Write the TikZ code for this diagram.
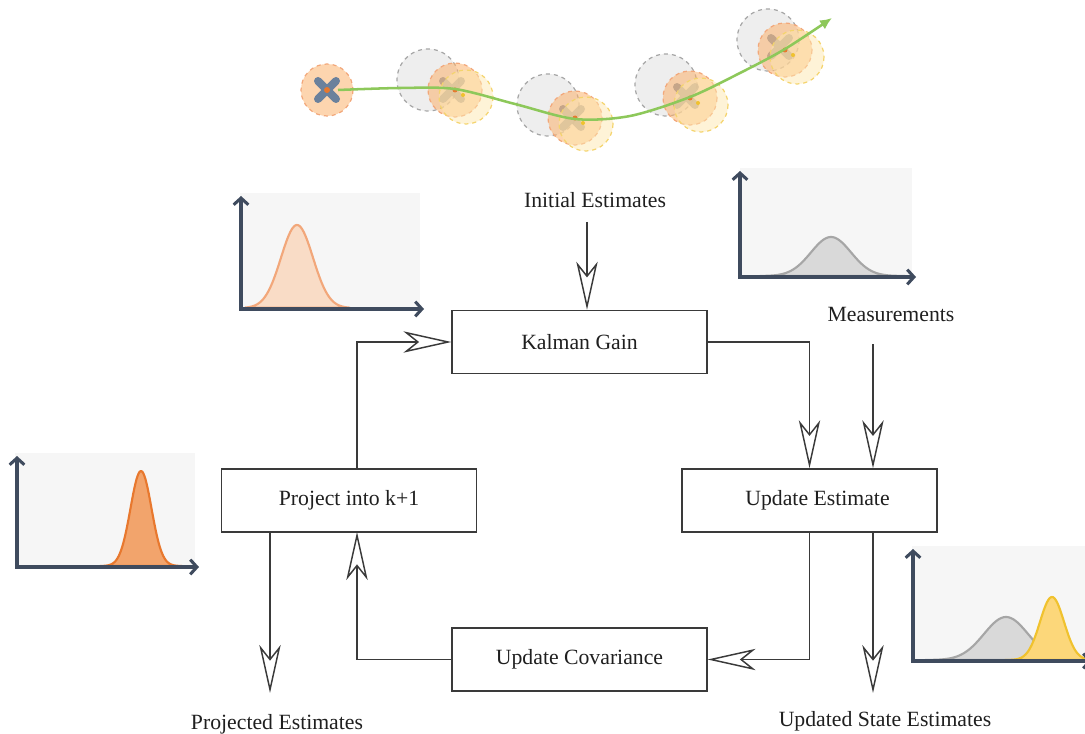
\documentclass[tikz,border=0pt]{standalone}
\usepackage{fontspec}
\setmainfont{Liberation Serif}
\usetikzlibrary{arrows.meta}
\definecolor{linec}{HTML}{3A3A3A}
\definecolor{axisc}{HTML}{3F4B5E}
\definecolor{plotbg}{HTML}{F6F6F6}
\definecolor{trackc}{HTML}{8DC85A}
\definecolor{greyfill}{HTML}{D9D9D9}
\definecolor{greyline}{HTML}{A6A6A6}
\definecolor{peachfill}{HTML}{F9DCC6}
\definecolor{peachline}{HTML}{F2A77A}
\definecolor{orangefill}{HTML}{F2A46C}
\definecolor{orangeline}{HTML}{E8782E}
\definecolor{yellowfill}{HTML}{FCD77A}
\definecolor{yellowline}{HTML}{F0C22E}
\definecolor{crossc}{HTML}{6B819C}
\begin{document}
\begin{tikzpicture}[x=0.75pt,y=-0.75pt,
  lbl/.style={font=\fontsize{16.3}{19}\selectfont, text=black!88, inner sep=0pt},
  flowbox/.style={lbl, draw=linec, line width=1.1pt, minimum width=191pt, minimum height=47.3pt, fill=white},
  arr/.style={draw=linec, line width=1.1pt,
    -{Stealth[open, length=36pt, width=16pt, inset=10pt, line width=1.1pt]}},
  axes/.style={draw=axisc, line width=2.3pt, line join=miter,
    {Straight Barb[length=5pt, width=11pt, line width=2.3pt]}-{Straight Barb[length=5pt, width=11pt, line width=2.3pt]}},
  gcirc/.style={draw=greyline, dashed, line width=0.9pt, fill=greyfill!75, fill opacity=0.6},
  ocirc/.style={draw=peachline, dashed, line width=0.9pt, fill=orange!45!peachfill, fill opacity=0.55},
  ycirc/.style={draw=yellowline!70, dashed, line width=0.9pt, fill=yellowfill!60, fill opacity=0.5},
  xmark/.style={draw=crossc, line width=6pt, line cap=round}
]
\useasboundingbox (0,0) rectangle (1085,734);

% ---------- tracked trajectory ----------
% point 1
\draw[ocirc] (327,90) circle (26);
\draw[xmark] (318,81) -- (336,99) (318,99) -- (336,81);
\fill[orangeline] (327,90) circle (3);
% points 2..5: prediction (grey), cross, estimate (orange), measurement (yellow)
\foreach \gx/\gy/\ox/\oy/\yx/\yy/\cx/\cy in
  {428/80/455/90/466/97/452/90,
   548/105/575/118/586/124/572/118,
   666/85/690/98/701/105/686/96,
   768/40/785/50/797/57/780/47}{
  \draw[gcirc] (\gx,\gy) circle (31);
  \draw[xmark, draw opacity=0.8] (\cx-9,\cy-9) -- (\cx+9,\cy+9) (\cx-9,\cy+9) -- (\cx+9,\cy-9);
  \draw[ocirc] (\ox,\oy) circle (27);
  \draw[ycirc] (\yx,\yy) circle (27);
  \fill[orangeline] (\ox,\oy) circle (2.5);
  \fill[yellowline] (\ox+8,\oy+5) circle (2);
}
\draw[trackc, line width=1.9pt, -{Latex[length=9pt, width=8pt]}]
  plot[smooth, tension=0.5] coordinates {(338,90) (400,88) (455,89) (515,104) (575,119) (630,116) (690,97) (740,73) (785,49) (832,18)};

% ---------- distribution plots ----------
% projected (top left)
\fill[plotbg] (240,193) rectangle (420,310);
\path[fill=peachfill, draw=peachline, line width=1.6pt]
  plot[domain=245:350, samples=80] (\x,{308-83*exp(-0.5*((\x-297)/16)^2)}) -- cycle;
\draw[axes] (241,196) -- (241,309) -- (424,309);

% measurement (top right)
\fill[plotbg] (740,168) rectangle (912,278);
\path[fill=greyfill, draw=greyline, line width=1.6pt]
  plot[domain=760:905, samples=80] (\x,{276-39*exp(-0.5*((\x-831)/20)^2)}) -- cycle;
\draw[axes] (740,171) -- (740,277) -- (916,277);

% prior (left)
\fill[plotbg] (15,453) rectangle (195,568);
\path[fill=orangefill, draw=orangeline, line width=1.6pt]
  plot[domain=100:182, samples=80] (\x,{566-95*exp(-0.5*((\x-141)/10.5)^2)}) -- cycle;
\draw[axes] (17,456) -- (17,567) -- (199,567);

% updated (bottom right)
\fill[plotbg] (912,546) rectangle (1085,662);
\path[fill=greyfill, draw=greyline, line width=1.6pt]
  plot[domain=925:1080, samples=80] (\x,{660-43*exp(-0.5*((\x-1006)/22)^2)}) -- cycle;
\path[fill=yellowfill, draw=yellowline, line width=1.6pt]
  plot[domain=1005:1100, samples=80] (\x,{660-63*exp(-0.5*((\x-1052)/12)^2)}) -- cycle;
\draw[axes] (913,549) -- (913,661) -- (1092,661);

% ---------- flow chart ----------
\node[flowbox] (kg) at (579.5,342) {Kalman Gain};
\node[flowbox] (pj) at (349,500.5) {Project into k+1};
\node[flowbox] (ue) at (809.5,500.5) {\hspace*{12pt}Update Estimate};
\node[flowbox] (uc) at (579.5,659.5) {Update Covariance};

\node[lbl] (init) at (595,200) {Initial Estimates};
\node[lbl] (meas) at (891,314) {Measurements};
\node[lbl] (pest) at (277,724) {Projected Estimates};
\node[lbl] (uest) at (885,721) {Updated State Estimates};

\coordinate (initfoot) at (587,222);
\coordinate (measfoot) at (873,344);
\coordinate (uetap) at (873,532);
\coordinate (uetapend) at (873,693);
\coordinate (pjtap) at (270,532);
\coordinate (pjtapend) at (270,693);
\coordinate (pjin) at (357,532);
\coordinate (pjout) at (357,469);

\draw[arr] (initfoot) -- (initfoot |- kg.north);
\draw[arr] (kg.east) -| (ue.north);
\draw[arr] (measfoot) -- (measfoot |- ue.north);
\draw[arr] (ue.south) |- (uc.east);
\draw[arr] (uetap) -- (uetapend);
\draw[arr] (uc.west) -| (pjin);
\draw[arr] (pjout) |- (kg.west);
\draw[arr] (pjtap) -- (pjtapend);
\end{tikzpicture}
\end{document}
